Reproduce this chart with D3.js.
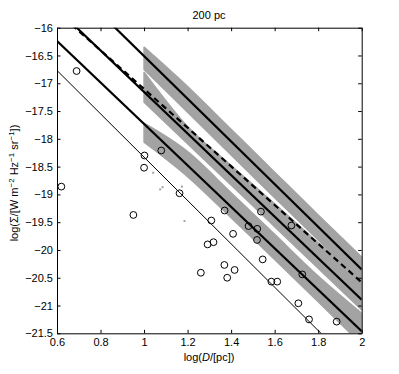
<!DOCTYPE html>
<html>
<head>
<meta charset="utf-8">
<script src="https://cdn.jsdelivr.net/npm/d3@7"></script>
<style>
  html, body { margin: 0; padding: 0; background: #fff; }
  svg { display: block; }
  text { font-family: "Liberation Sans", Arial, Helvetica, sans-serif; }
</style>
</head>
<body>
<svg id="chart" width="399" height="374"></svg>
<script>
// ---------------- data ----------------
const titleText = "200 pc";
const xTicks = [0.6, 0.8, 1, 1.2, 1.4, 1.6, 1.8, 2];
const yTicks = [-16, -16.5, -17, -17.5, -18, -18.5, -19, -19.5, -20, -20.5, -21, -21.5];

// observed remnants (open circles): log D, log Sigma
const obsX = [0.69, 0.62, 0.951, 1.002, 1.0, 1.079, 1.163, 1.261, 1.370, 1.309, 1.409, 1.480, 1.520, 1.537,
              1.519, 1.545, 1.292, 1.319, 1.369, 1.416, 1.382, 1.585, 1.612, 1.677, 1.727, 1.709, 1.758, 1.885];
const obsY = [-16.78, -18.86, -19.37, -18.30, -18.52, -18.21, -18.98, -20.41, -19.29, -19.47, -19.71, -19.57, -19.62, -19.31,
              -19.82, -20.17, -19.90, -19.86, -20.27, -20.36, -20.50, -20.57, -20.57, -19.56, -20.44, -20.96, -21.25, -21.29];

// simulated populations: envelopes of the three grey clouds (log D, upper, lower)
const bandAX  = [1.00, 1.20, 1.40, 1.60, 1.80, 2.00];
const bandAHi = [-17.72, -18.23, -18.97, -19.72, -20.47, -21.14];
const bandALo = [-18.06, -18.68, -19.42, -20.17, -20.93, -21.70];

const bandBX  = [1.00, 1.20, 1.40, 1.60, 1.80, 2.00];
const bandBHi = [-16.80, -17.78, -18.48, -19.17, -19.87, -20.56];
const bandBLo = [-17.34, -18.09, -18.83, -19.58, -20.33, -21.08];

const bandCX  = [1.00, 1.20, 1.40, 1.60, 1.80, 2.00];
const bandCHi = [-16.35, -17.06, -17.83, -18.60, -19.37, -20.13];
const bandCLo = [-16.75, -17.52, -18.29, -19.06, -19.82, -20.59];

// isolated grey simulated points
const strayX = [1.042, 1.074, 1.085, 1.174, 1.186];
const strayY = [-18.61, -18.91, -18.87, -18.86, -19.48];

// fitted relations: anchor point and slope
const lineNames  = ["thin", "low", "mid", "dash", "top"];
const lineX0     = [0.6, 0.6, 0.6906, 0.683, 0.867];
const lineY0     = [-16.77, -16.24, -16.0, -16.0, -16.0];
const lineSlope  = [-3.9, -3.73, -3.74, -3.48, -3.84];

// ---------------- drawing ----------------
const svg = d3.select("#chart");
const L = 57, R = 361.7, T = 27.7, B = 333.3;
const x = d3.scaleLinear().domain([0.6, 2]).range([L, R]);
const y = d3.scaleLinear().domain([-21.5, -16]).range([B, T]);

svg.append("defs").append("clipPath").attr("id", "plotclip")
  .append("rect").attr("x", L).attr("y", T).attr("width", R - L).attr("height", B - T);

const plot = svg.append("g").attr("clip-path", "url(#plotclip)");

const grey = "#a3a3a3";
function drawBand(bx, hi, lo) {
  const pts = bx.map((v, i) => ({x: v, hi: hi[i], lo: lo[i]}));
  const area = d3.area().x(d => x(d.x)).y0(d => y(d.lo)).y1(d => y(d.hi)).curve(d3.curveMonotoneX);
  plot.append("path").datum(pts).attr("d", area).attr("fill", grey).attr("stroke", grey)
    .attr("stroke-width", 1.5).attr("stroke-linejoin", "round");
}
drawBand(bandCX, bandCHi, bandCLo);
drawBand(bandBX, bandBHi, bandBLo);
drawBand(bandAX, bandAHi, bandALo);

plot.selectAll("rect.stray").data(strayX.map((v, i) => [v, strayY[i]])).enter()
  .append("rect").attr("class", "stray")
  .attr("x", d => x(d[0]) - 1).attr("y", d => y(d[1]) - 1)
  .attr("width", 2).attr("height", 2).attr("fill", grey);

// lines
const lineStyle = {
  thin: {w: 1, dash: null},
  low:  {w: 2.2, dash: null},
  mid:  {w: 2.2, dash: null},
  dash: {w: 2.2, dash: "6,4"},
  top:  {w: 2.2, dash: null}
};
lineNames.forEach((n, i) => {
  const f = v => lineY0[i] + lineSlope[i] * (v - lineX0[i]);
  const xs = [0.6, 2.0];
  const ln = d3.line().x(d => x(d)).y(d => y(f(d)));
  const st = lineStyle[n];
  plot.append("path").attr("d", ln(xs)).attr("fill", "none")
    .attr("stroke", "#000").attr("stroke-width", st.w)
    .attr("stroke-dasharray", st.dash);
});

// observed circles
plot.selectAll("circle.obs").data(obsX.map((v, i) => [v, obsY[i]])).enter()
  .append("circle").attr("class", "obs")
  .attr("cx", d => x(d[0])).attr("cy", d => y(d[1])).attr("r", 3.4)
  .attr("fill", "none").attr("stroke", "#000").attr("stroke-width", 1);

// axes
const fmtY = d => (d < 0 ? "\u2212" : "") + Math.abs(d);
const fmtX = d => String(d);
const tick = 3.5;
const gB = svg.append("g").attr("transform", `translate(0,${B})`)
  .call(d3.axisBottom(x).tickValues(xTicks).tickFormat(fmtX).tickSizeInner(-tick).tickSizeOuter(0).tickPadding(5));
const gT = svg.append("g").attr("transform", `translate(0,${T})`)
  .call(d3.axisTop(x).tickValues(xTicks).tickFormat("").tickSizeInner(-tick).tickSizeOuter(0));
const gL = svg.append("g").attr("transform", `translate(${L},0)`)
  .call(d3.axisLeft(y).tickValues(yTicks).tickFormat(fmtY).tickSizeInner(-tick).tickSizeOuter(0).tickPadding(4));
const gR = svg.append("g").attr("transform", `translate(${R},0)`)
  .call(d3.axisRight(y).tickValues(yTicks).tickFormat("").tickSizeInner(-tick).tickSizeOuter(0));
[gB, gT, gL, gR].forEach(g => {
  g.selectAll("text").attr("font-size", 11).attr("fill", "#000")
    .attr("font-family", '"Liberation Sans", Arial, sans-serif');
  g.selectAll("line").attr("stroke", "#000");
  g.select(".domain").attr("stroke", "#000").attr("stroke-width", 1);
});

// title
svg.append("text").attr("x", 209).attr("y", 19).attr("text-anchor", "middle")
  .attr("font-size", 11).text(titleText);

// x label
const xl = svg.append("text").attr("x", 209).attr("y", 361).attr("text-anchor", "middle").attr("font-size", 11);
xl.append("tspan").text("log(");
xl.append("tspan").attr("font-style", "italic").text("D");
xl.append("tspan").text("/[pc])");

// y label
const yl = svg.append("text").attr("transform", "translate(18,183) rotate(-90)")
  .attr("text-anchor", "middle").attr("font-size", 11);
yl.append("tspan").text("log(\u03a3/[W m");
yl.append("tspan").attr("font-size", 8).attr("dy", -4).text("\u22122");
yl.append("tspan").attr("dy", 4).text(" Hz");
yl.append("tspan").attr("font-size", 8).attr("dy", -4).text("\u22121");
yl.append("tspan").attr("dy", 4).text(" sr");
yl.append("tspan").attr("font-size", 8).attr("dy", -4).text("\u22121");
yl.append("tspan").attr("dy", 4).text("])");
</script>
</body>
</html>
